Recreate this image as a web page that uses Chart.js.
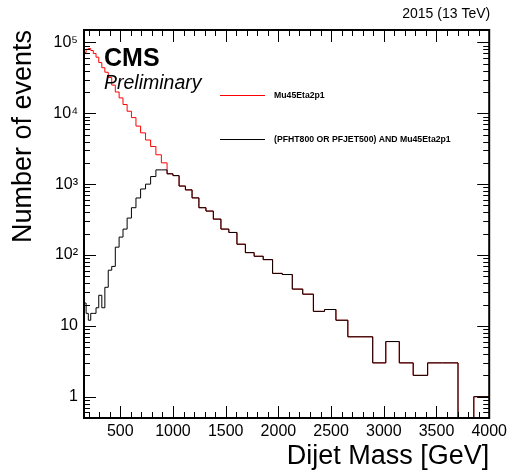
<!DOCTYPE html>
<html>
<head>
<meta charset="utf-8">
<script src="https://cdn.jsdelivr.net/npm/chart.js@4.4.1/dist/chart.umd.min.js"></script>
<style>
  html, body { margin: 0; padding: 0; background: #fff; }
  #dijetChart { display: block; }
</style>
</head>
<body>
<canvas id="dijetChart" width="511" height="472"></canvas>
<script>
// dijet mass bin edges [GeV]
const massEdges = [156, 176, 197, 220, 244, 270, 296, 325, 354, 386, 419, 453, 489, 526, 565, 606, 649, 693,
  740, 788, 838, 890, 944, 1000, 1058, 1118, 1181, 1246, 1313, 1383, 1455, 1530, 1607, 1687, 1770, 1856,
  1945, 2037, 2132, 2231, 2332, 2438, 2546, 2659, 2775, 2895, 3019, 3147, 3279, 3416, 3558, 3704, 3854, 4010];

// Mu45Eta2p1 (red)
const eventsMu = [72000, 80000, 82000, 77000, 70000, 62000, 52000, 44000, 38000, 32000, 25000, 20000,
  16500, 13300, 10700, 8700, 6600, 5300, 4200, 3400, 2600, 2000,
  1400, 1320, 940, 830, 640, 465, 417, 321, 232, 208, 142, 108, 96, 86, 55, 53, 33, 28, 16, 17,
  12, 7, 7, 3, 6, 3, 2, 3, 3, 0, 1];

// (PFHT800 OR PFJET500) AND Mu45Eta2p1 (black)
const eventsOr = [21, 15, 12, 15, 15, 18, 27, 18, 35, 61, 69, 129, 179, 232, 332, 465, 638, 855, 1000, 1280, 1590, 1590,
  1400, 1320, 940, 830, 640, 465, 417, 321, 232, 208, 142, 108, 96, 86, 55, 53, 33, 28, 16, 17,
  12, 7, 7, 3, 6, 3, 2, 3, 3, 0, 1];

const xTickValues = [500, 1000, 1500, 2000, 2500, 3000, 3500, 4000];
const yTickValues = [1, 10, 100, 1000, 10000, 100000];
const yTickLabels = ['1', '10', '10²', '10³', '10⁴', '10⁵'];

const seriesNames = ['(PFHT800 OR PFJET500) AND Mu45Eta2p1', 'Mu45Eta2p1'];
const seriesColors = ['#000000', '#ff0000'];
const font = '"Liberation Sans", Arial, Helvetica, sans-serif';

// histogram -> step points (left edge of every bin + closing right edge)
function toSteps(counts) {
  var pts = [];
  for (var i = 0; i < counts.length; i++) {
    pts.push({ x: massEdges[i], y: counts[i] > 0 ? counts[i] : 1e-3 }); // empty bin falls off the log axis
  }
  pts.push({ x: massEdges[counts.length], y: pts[pts.length - 1].y });
  return pts;
}

// ROOT-like frame: box + inward ticks on all four sides, legend and labels
const rootFrame = {
  id: 'rootFrame',
  afterDraw(chart) {
    const ctx = chart.ctx;
    const a = chart.chartArea;
    const x = chart.scales.x, y = chart.scales.y;
    ctx.save();
    ctx.strokeStyle = '#000';
    ctx.lineWidth = 1;
    ctx.beginPath();
    for (var m = 200; m <= x.max; m += 100) {
      var px = Math.round(x.getPixelForValue(m)) + 0.5;
      var len = m % 500 === 0 ? 12 : 6;
      ctx.moveTo(px, a.bottom); ctx.lineTo(px, a.bottom - len);
      ctx.moveTo(px, a.top); ctx.lineTo(px, a.top + len);
    }
    for (var e = -1; e <= 5; e++) {
      for (var k = 1; k <= 9; k++) {
        var v = k * Math.pow(10, e);
        if (v < y.min || v > y.max) continue;
        var py = Math.round(y.getPixelForValue(v)) + 0.5;
        var l = k === 1 ? 12 : 6;
        ctx.moveTo(a.left, py); ctx.lineTo(a.left + l, py);
        ctx.moveTo(a.right, py); ctx.lineTo(a.right - l, py);
      }
    }
    ctx.stroke();
    ctx.lineWidth = 2;
    ctx.strokeRect(a.left, a.top, a.right - a.left, a.bottom - a.top);

    // legend
    ctx.fillStyle = seriesColors[1];
    ctx.fillRect(220, 95, 45, 1);
    ctx.fillStyle = seriesColors[0];
    ctx.fillRect(220, 139, 45, 1);
    ctx.fillStyle = '#000';
    ctx.textAlign = 'left';
    ctx.textBaseline = 'middle';
    ctx.font = 'bold 8.7px ' + font;
    ctx.fillText(seriesNames[1], 274, 96);
    ctx.fillText(seriesNames[0], 274, 140);

    // CMS labels
    ctx.textBaseline = 'alphabetic';
    ctx.font = 'bold 25px ' + font;
    ctx.fillText('CMS', 104, 66);
    ctx.font = 'italic 19.5px ' + font;
    ctx.fillText('Preliminary', 104, 89);
    ctx.textAlign = 'right';
    ctx.font = '14px ' + font;
    ctx.fillText('2015 (13 TeV)', a.right + 1, 18);
    ctx.restore();
  }
};

const ctx = document.getElementById('dijetChart').getContext('2d');
const dijetChart = new Chart(ctx, {
  type: 'line',
  data: {
    datasets: [{
      label: seriesNames[0],
      data: toSteps(eventsOr),
      borderColor: seriesColors[0],
      borderWidth: 1,
      stepped: true,
      pointRadius: 0,
      fill: false
    }, {
      label: seriesNames[1],
      data: toSteps(eventsMu),
      borderColor: seriesColors[1],
      borderWidth: 1,
      stepped: true,
      pointRadius: 0,
      fill: false
    }]
  },
  options: {
    animation: false,
    responsive: false,
    events: [],
    layout: { padding: { top: 30, right: 18, left: 0, bottom: 0 } },
    plugins: {
      legend: { display: false },
      tooltip: { enabled: false }
    },
    scales: {
      x: {
        type: 'linear',
        min: 156,
        max: 4000,
        afterBuildTicks: function(s) { s.ticks = xTickValues.map(function(v) { return { value: v }; }); },
        afterFit: function(s) { s.height = 54; },
        grid: { display: false, drawTicks: false },
        border: { display: false },
        ticks: {
          color: '#000',
          font: { family: font, size: 16 },
          padding: 4,
          maxRotation: 0,
          autoSkip: false,
          callback: function(v) { return String(v); }
        },
        title: {
          display: true,
          text: 'Dijet Mass [GeV]',
          align: 'end',
          color: '#000',
          font: { family: font, size: 27, lineHeight: 1 },
          padding: { top: 0, bottom: 2 }
        }
      },
      y: {
        type: 'logarithmic',
        min: 0.5,
        max: 150000,
        afterBuildTicks: function(s) { s.ticks = yTickValues.map(function(v) { return { value: v }; }); },
        afterFit: function(s) { s.width = 84; },
        grid: { display: false, drawTicks: false },
        border: { display: false },
        ticks: {
          color: '#000',
          font: { family: font, size: 16 },
          padding: 6,
          autoSkip: false,
          callback: function(v, i) { return yTickLabels[i]; }
        },
        title: {
          display: true,
          text: 'Number of events',
          align: 'end',
          color: '#000',
          font: { family: font, size: 27, lineHeight: 1 },
          padding: { top: 10, bottom: 0 }
        }
      }
    }
  },
  plugins: [rootFrame]
});
</script>
</body>
</html>
